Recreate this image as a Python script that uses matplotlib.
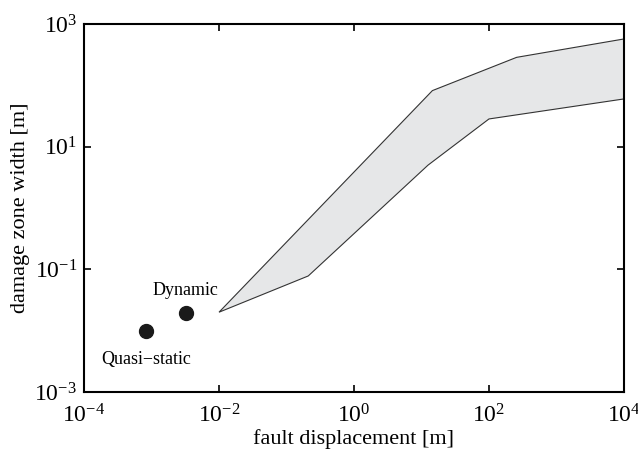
import matplotlib
matplotlib.use('Agg')
import matplotlib.pyplot as plt

# Damage zone band (lower edge left->right, upper edge right->left)
lower_x = [0.01, 0.21, 12.5, 100, 1e4]
lower_y = [0.02, 0.078, 5.0, 28.3, 60]
upper_x = [1e4, 257, 14.5, 0.01]
upper_y = [570, 286, 82, 0.02]

# Lab points
point_names = ['Quasi\u2212static', 'Dynamic']
point_x = [8.2e-4, 3.2e-3]
point_y = [0.0098, 0.0196]

xticks = [1e-4, 1e-2, 1e0, 1e2, 1e4]
yticks = [1e-3, 1e-1, 1e1, 1e3]

plt.rcParams['font.family'] = ['Liberation Serif', 'DejaVu Serif']
plt.rcParams['mathtext.fontset'] = 'custom'
plt.rcParams['mathtext.rm'] = 'Liberation Serif'
plt.rcParams['mathtext.it'] = 'Liberation Serif:italic'

fig = plt.figure(figsize=(6.38, 4.57), dpi=100)
ax = fig.add_axes([0.1317, 0.1422, 0.8463, 0.8053])

ax.fill(lower_x + upper_x, lower_y + upper_y, facecolor='#e6e7e8',
        edgecolor='#333333', linewidth=0.8)
ax.plot(point_x, point_y, 'o', color='#1a1a1a', markersize=10)

ax.annotate(point_names[0], (point_x[0], point_y[0]), xytext=(0, -14),
            textcoords='offset points', ha='center', va='top', fontsize=13)
ax.annotate(point_names[1], (point_x[1], point_y[1]), xytext=(0, 10),
            textcoords='offset points', ha='center', va='bottom', fontsize=13)

ax.set_xscale('log')
ax.set_yscale('log')
ax.set_xlim(1e-4, 1e4)
ax.set_ylim(1e-3, 1e3)
ax.set_xticks(xticks)
ax.set_yticks(yticks)
ax.minorticks_off()
ax.tick_params(direction='in', top=True, right=True, length=5, width=1.2,
               labelsize=17)
ax.tick_params(axis='x', pad=9)
ax.tick_params(axis='y', pad=5)
for s in ax.spines.values():
    s.set_linewidth(1.5)

ax.set_xlabel('fault displacement [m]', fontsize=16, labelpad=1)
ax.set_ylabel('damage zone width [m]', fontsize=16, labelpad=3)

fig.savefig('out.png', dpi=100)
